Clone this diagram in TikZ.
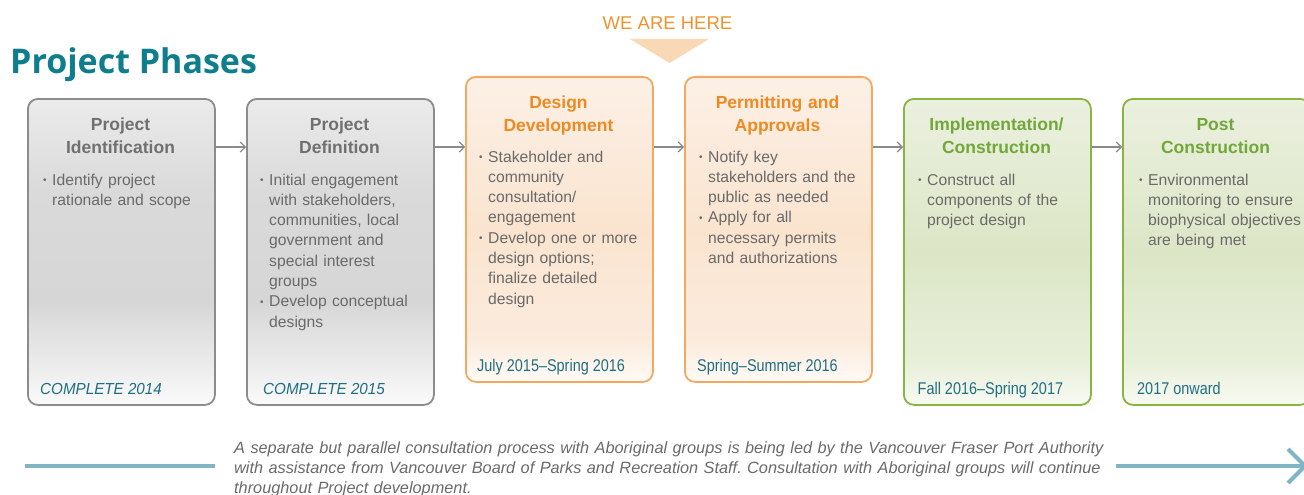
\documentclass[tikz,border=0pt]{standalone}
\usepackage{fontspec}
\setmainfont{Liberation Sans}
\newfontfamily\titlefont{Open Sans}
\usepackage{graphicx}
\usetikzlibrary{arrows.meta,calc}
\frenchspacing

\definecolor{titleteal}{HTML}{0E7D8C}
\definecolor{gborder}{HTML}{8C8C8C}
\definecolor{oborder}{HTML}{F4A860}
\definecolor{grborder}{HTML}{88B440}
\definecolor{gtitle}{HTML}{707070}
\definecolor{otitle}{HTML}{EE8A22}
\definecolor{grtitle}{HTML}{72A83A}
\definecolor{bodygray}{HTML}{6A6A6A}
\definecolor{dateteal}{HTML}{1F6F82}
\definecolor{tealbar}{HTML}{80B5C4}
\definecolor{trifill}{HTML}{F8D8B5}
\definecolor{weorange}{HTML}{F0922E}
\definecolor{arrgray}{HTML}{8A8A8A}

\definecolor{gA}{HTML}{FAFAFA}
\definecolor{gB}{HTML}{EDEDED}
\definecolor{gC}{HTML}{D6D6D6}
\definecolor{gC2}{HTML}{DADADA}
\definecolor{gD}{HTML}{EBEBEB}
\definecolor{oA}{HTML}{FFFAF5}
\definecolor{oB}{HTML}{FBEBDD}
\definecolor{oC}{HTML}{FAE4CF}
\definecolor{oD}{HTML}{FCF0E6}
\definecolor{grA}{HTML}{F8FAF2}
\definecolor{grB}{HTML}{E8EFDA}
\definecolor{grC}{HTML}{DCE6C6}
\definecolor{grD}{HTML}{EBF0DF}

\pgfdeclareverticalshading{grayfill}{100bp}{color(0bp)=(gA); color(25bp)=(gA); color(31bp)=(gB); color(42bp)=(gC); color(60bp)=(gC2); color(75bp)=(gD); color(100bp)=(gD)}
\pgfdeclareverticalshading{orangefill}{100bp}{color(0bp)=(oA); color(25bp)=(oA); color(32bp)=(oB); color(50bp)=(oC); color(75bp)=(oD); color(100bp)=(oD)}
\pgfdeclareverticalshading{greenfill}{100bp}{color(0bp)=(grA); color(25bp)=(grA); color(32bp)=(grB); color(50bp)=(grC); color(75bp)=(grD); color(100bp)=(grD)}

\newcommand\smallbul{\raisebox{1.5pt}{\fontsize{10}{10}\selectfont\textbullet}}
\newcommand\bul[1]{\noindent\hangindent=9pt\hangafter=1\makebox[9pt][l]{\smallbul}#1\par}
\newcommand\cond[1]{\scalebox{0.85}[1]{#1}}

\tikzset{
  box/.style={rounded corners=10pt, line width=1.8pt, minimum width=187pt, anchor=north west, inner sep=0pt},
  graybox/.style={box, draw=gborder, shading=grayfill, minimum height=306pt},
  orangebox/.style={box, draw=oborder, shading=orangefill, minimum height=305pt},
  greenbox/.style={box, draw=grborder, shading=greenfill, minimum height=306pt},
  phasetitle/.style={anchor=base, inner sep=0pt, text width=187pt, align=center, font=\bfseries\fontsize{17.5}{23}\selectfont},
  body/.style={anchor=base west, inner sep=0pt, text width=200pt, align=left, text=bodygray, font=\fontsize{15.7}{20.3}\selectfont},
  datelbl/.style={anchor=base west, inner sep=0pt, text=dateteal, font=\fontsize{17}{17}\selectfont},
  donelbl/.style={anchor=base west, inner sep=0pt, text=dateteal, font=\itshape\fontsize{16}{16}\selectfont},
  arr/.style={draw=arrgray, line width=1.2pt, -{Straight Barb[length=5pt,width=10pt,line width=1.2pt]}},
  bar/.style={draw=tealbar, line width=4pt},
}

\begin{document}
\begin{tikzpicture}[x=1pt,y=-1pt]
\clip (0,0) rectangle (1304,495);
\useasboundingbox (0,0) rectangle (1304,495);

% heading
\node[anchor=base west, inner sep=0pt, text=titleteal, font=\titlefont\bfseries\fontsize{34}{34}\selectfont] (heading) at (10,74) {Project Phases};

% we are here
\node[anchor=base, inner sep=0pt, text=weorange, font=\fontsize{18.5}{18.5}\selectfont] (here) at (667.5,29.3) {WE ARE HERE};
\fill[trifill] (630,39) -- (709,39) -- (669.5,63) -- cycle;

% boxes
\node[graybox] (b1) at (27,98) {};
\node[graybox] (b2) at (246,98) {};
\node[orangebox] (b3) at (465,76) {};
\node[orangebox] (b4) at (684,76) {};
\node[greenbox] (b5) at (903,98) {};
\node[greenbox] (b6) at (1122,98) {};

% connectors
\coordinate (ay) at (0,147);
\draw[arr] (b1.east |- ay) -- (b2.west |- ay);
\draw[arr] (b2.east |- ay) -- (b3.west |- ay);
\draw[arr] (b3.east |- ay) -- (b4.west |- ay);
\draw[arr] (b4.east |- ay) -- (b5.west |- ay);
\draw[arr] (b5.east |- ay) -- (b6.west |- ay);

% titles
\node[phasetitle, text=gtitle] (t1) at (120.5,130) {Project\\Identification};
\node[phasetitle, text=gtitle] (t2) at (339.5,130) {Project\\Definition};
\node[phasetitle, text=otitle] (t3) at (558.5,108) {Design\\Development};
\node[phasetitle, text=otitle] (t4) at (777.5,108) {Permitting and\\Approvals};
\node[phasetitle, text=grtitle] (t5) at (996.5,130) {Implementation/\\Construction};
\node[phasetitle, text=grtitle] (t6) at (1215.5,130) {Post\\Construction};

% bodies
\node[body] (c1) at (43,185) {\bul{Identify project\newline rationale and scope}};
\node[body] (c2) at (260,185) {\bul{Initial engagement\newline with stakeholders,\newline communities, local\newline government and\newline special interest\newline groups}\bul{Develop conceptual\newline designs}};
\node[body] (c3) at (479,162) {\bul{Stakeholder and\newline community\newline consultation/\newline engagement}\bul{Develop one or more\newline design options;\newline finalize detailed\newline design}};
\node[body] (c4) at (699,162) {\bul{Notify key\newline stakeholders and the\newline public as needed}\bul{Apply for all\newline necessary permits\newline and authorizations}};
\node[body] (c5) at (918,185) {\bul{Construct all\newline components of the\newline project design}};
\node[body] (c6) at (1139,185) {\bul{Environmental\newline monitoring to ensure\newline biophysical objectives\newline are being met}};

% dates
\node[donelbl] (d1) at (40,394) {\scalebox{0.95}[1]{COMPLETE 2014}};
\node[donelbl] (d2) at (263,394) {\scalebox{0.95}[1]{COMPLETE 2015}};
\node[datelbl] (d3) at (477,371) {\cond{July 2015–Spring 2016}};
\node[datelbl] (d4) at (697,371) {\cond{Spring–Summer 2016}};
\node[datelbl] (d5) at (917.5,394) {\cond{Fall 2016–Spring 2017}};
\node[datelbl] (d6) at (1137,394) {\cond{2017 onward}};

% bottom note
\node[anchor=base west, inner sep=0pt, text width=900pt, align=left, text=bodygray, font=\itshape\fontsize{16.3}{20}\selectfont] (note) at (234,453)
 {A separate but parallel consultation process with Aboriginal groups is being led by the Vancouver Fraser Port Authority\newline
  with assistance from Vancouver Board of Parks and Recreation Staff. Consultation with Aboriginal groups will continue\newline
  throughout Project development.};

\coordinate (l1) at (25,466);
\coordinate (l2) at (215,466);
\coordinate (r1) at (1116,466);
\coordinate (tip) at (1305,466);
\draw[bar] (l1) -- (l2);
\draw[bar] (r1) -- (tip);
\draw[bar] ($(tip)+(-17,-17)$) -- (tip) -- ($(tip)+(-17,17)$);
\end{tikzpicture}
\end{document}
